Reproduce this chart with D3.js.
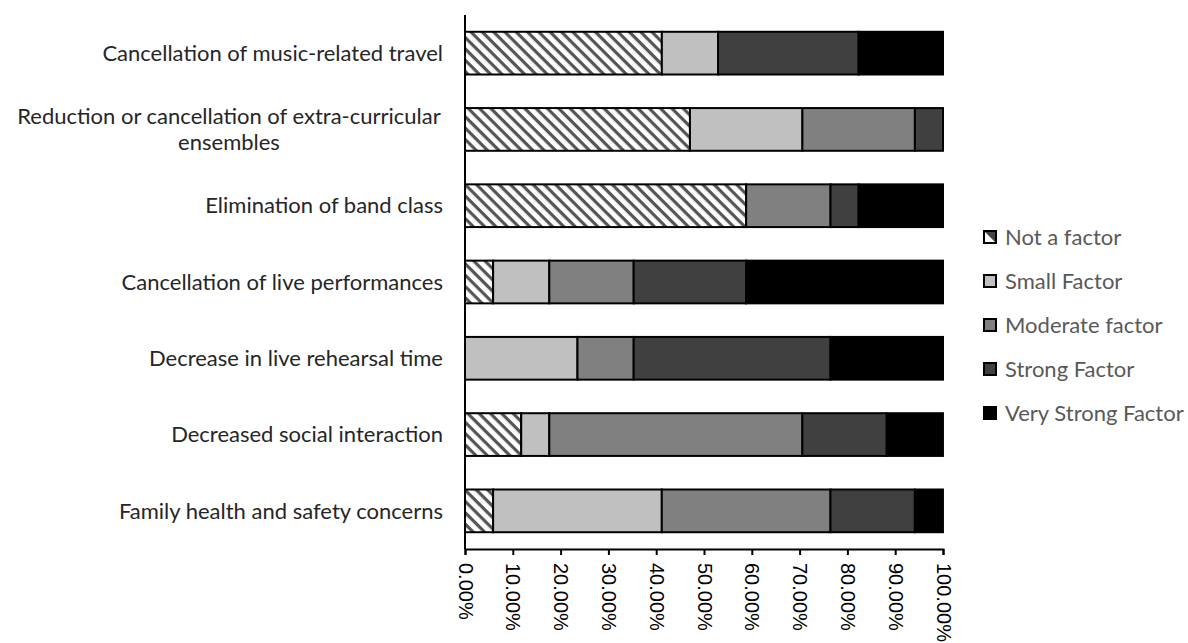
<!DOCTYPE html>
<html>
<head>
<meta charset="utf-8">
<script src="https://cdn.jsdelivr.net/npm/d3@7"></script>
<style>
  html, body { margin: 0; padding: 0; background: #fff; }
  svg { display: block; }
</style>
</head>
<body>
<svg id="chart" width="1188" height="643"></svg>
<script>
// Survey categories, top to bottom
const categories = [
  "Cancellation of music-related travel",
  "Reduction or cancellation of extra-curricular ensembles",
  "Elimination of band class",
  "Cancellation of live performances",
  "Decrease in live rehearsal time",
  "Decreased social interaction",
  "Family health and safety concerns"
];

// Wrapped label lines per category
const categoryLines = [
  ["Cancellation of music-related travel"],
  ["Reduction or cancellation of extra-curricular", "ensembles"],
  ["Elimination of band class"],
  ["Cancellation of live performances"],
  ["Decrease in live rehearsal time"],
  ["Decreased social interaction"],
  ["Family health and safety concerns"]
];

const seriesNames = ["Not a factor", "Small Factor", "Moderate factor", "Strong Factor", "Very Strong Factor"];

// Share of respondents (%) per category, one array per series
const notAFactor      = [41.18, 47.06, 58.82,  5.88,  0.00, 11.76,  5.88];
const smallFactor     = [11.76, 23.53,  0.00, 11.76, 23.53,  5.88, 35.29];
const moderateFactor  = [ 0.00, 23.53, 17.65, 17.65, 11.76, 52.94, 35.29];
const strongFactor    = [29.41,  5.88,  5.88, 23.53, 41.18, 17.65, 17.65];
const veryStrongFactor= [17.65,  0.00, 17.65, 41.18, 23.53, 11.76,  5.88];

const tickValues = [0, 10, 20, 30, 40, 50, 60, 70, 80, 90, 100];

const seriesValues = [notAFactor, smallFactor, moderateFactor, strongFactor, veryStrongFactor];
const fills = ["url(#hatch)", "#c0c0c0", "#808080", "#404040", "#000000"];

const rows = categories.map((c, i) => {
  const r = { category: c };
  seriesNames.forEach((s, j) => { r[s] = seriesValues[j][i]; });
  return r;
});

const svg = d3.select("#chart");

// Diagonal hatch (falling to the right) for "Not a factor"
const defs = svg.append("defs");
const pat = defs.append("pattern")
  .attr("id", "hatch")
  .attr("patternUnits", "userSpaceOnUse")
  .attr("width", 8).attr("height", 8)
  .attr("patternTransform", "rotate(45)");
pat.append("rect").attr("width", 8).attr("height", 8).attr("fill", "#fff");
pat.append("rect").attr("x", 0).attr("y", 0).attr("width", 8).attr("height", 3.2).attr("fill", "#555");

// Legend swatch for hatch: white with a dark triangle corner
const lp = defs.append("pattern")
  .attr("id", "hatchLegend")
  .attr("patternUnits", "objectBoundingBox")
  .attr("width", 1).attr("height", 1);
lp.append("rect").attr("width", 12).attr("height", 12).attr("fill", "#fff");
lp.append("path").attr("d", "M0,0 L12,0 L12,12 Z").attr("fill", "#444");

const x = d3.scaleLinear().domain([0, 100]).range([465, 943]);
const y = d3.scaleBand().domain(categories).range([15, 549])
  .paddingInner(0.44).paddingOuter(0.22);

const stacked = d3.stack().keys(seriesNames)(rows);

const g = svg.append("g");
stacked.forEach((layer, j) => {
  g.selectAll(null)
    .data(layer.filter(d => d[1] - d[0] > 0))
    .enter().append("rect")
    .attr("x", d => x(d[0]))
    .attr("y", d => y(d.data.category))
    .attr("width", d => x(d[1]) - x(d[0]))
    .attr("height", y.bandwidth())
    .attr("fill", fills[j])
    .attr("stroke", "#000")
    .attr("stroke-width", 2);
});

// Vertical category axis line
svg.append("line")
  .attr("x1", x(0)).attr("x2", x(0))
  .attr("y1", 15).attr("y2", 549)
  .attr("stroke", "#000").attr("stroke-width", 2);

// Horizontal percentage axis
const xAxis = d3.axisBottom(x)
  .tickValues(tickValues)
  .tickSize(6)
  .tickFormat(d => d.toFixed(2) + "%");
const ax = svg.append("g")
  .attr("transform", "translate(0,549)")
  .call(xAxis);
ax.select(".domain").attr("stroke", "#000").attr("stroke-width", 2);
ax.selectAll(".tick line").attr("stroke", "#000").attr("stroke-width", 2);
ax.selectAll(".tick text")
  .attr("font-family", "'Liberation Sans', Arial, sans-serif")
  .attr("font-size", 20)
  .attr("fill", "#000")
  .attr("text-anchor", "start")
  .attr("dy", "0.35em")
  .attr("transform", "translate(0,14) rotate(90)")
  .attr("x", 0).attr("y", 0);

// Category labels
const labelFont = "Lato, 'Open Sans', sans-serif";
categories.forEach((c, i) => {
  const lines = categoryLines[i];
  const cy = y(c) + y.bandwidth() / 2;
  const lh = 26;
  const t = svg.append("text")
    .attr("font-family", labelFont)
    .attr("font-size", 22)
    .attr("fill", "#262626");
  lines.forEach((ln, k) => {
    t.append("tspan")
      .attr("x", lines.length > 1 ? 229 : 443)
      .attr("text-anchor", lines.length > 1 ? "middle" : "end")
      .attr("y", cy + (k - (lines.length - 1) / 2) * lh)
      .attr("dy", "0.35em")
      .text(ln);
  });
});

// Legend
const legend = svg.append("g");
seriesNames.forEach((s, j) => {
  const ly = 237 + j * 44;
  legend.append("rect")
    .attr("x", 984).attr("y", ly - 6)
    .attr("width", 12).attr("height", 12)
    .attr("fill", j === 0 ? "url(#hatchLegend)" : fills[j])
    .attr("stroke", "#000").attr("stroke-width", 2);
  legend.append("text")
    .attr("x", 1005).attr("y", ly)
    .attr("dy", "0.35em")
    .attr("font-family", labelFont)
    .attr("font-size", 22)
    .attr("fill", "#595959")
    .text(s);
});
</script>
</body>
</html>
